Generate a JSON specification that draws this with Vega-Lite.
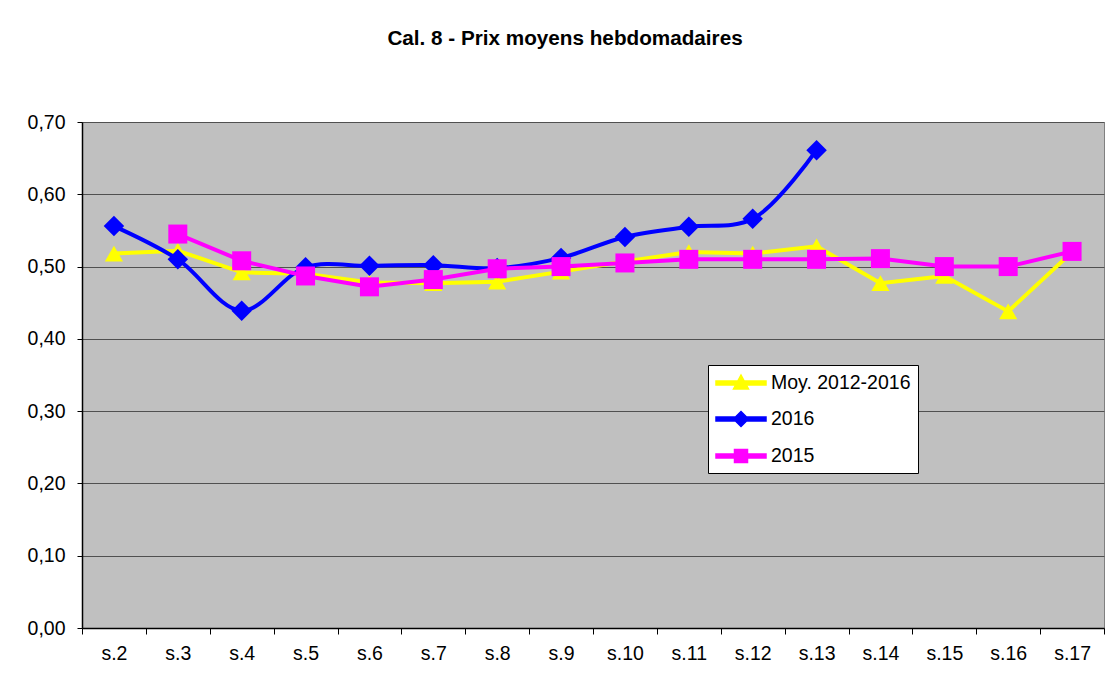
{
  "$schema": "https://vega.github.io/schema/vega-lite/v6.json",
  "autosize": {"type": "none"},
  "width": 1022,
  "height": 506,
  "padding": {"left": 82, "top": 122, "right": 9, "bottom": 67},
  "background": "white",
  "title": {
    "text": "Cal. 8 - Prix moyens hebdomadaires",
    "font": "Liberation Sans",
    "fontSize": 20.7,
    "fontWeight": "bold",
    "color": "black",
    "anchor": "middle",
    "dx": -28,
    "offset": 62
  },
  "config": {
    "font": "Liberation Sans",
    "view": {"fill": "#C0C0C0", "stroke": "#808080", "strokeWidth": 1},
    "legend": {
      "orient": "none",
      "legendX": 626,
      "legendY": 243,
      "fillColor": "white",
      "strokeColor": "black",
      "padding": 7,
      "symbolSize": 400,
      "symbolOffset": 15,
      "labelFontSize": 19.5,
      "labelFont": "Liberation Sans",
      "labelColor": "black",
      "labelOffset": 19,
      "rowPadding": 15,
      "title": null
    }
  },
  "data": {
    "values": [
      {"week": "s.2", "series": "Moy. 2012-2016", "value": 0.518},
      {"week": "s.3", "series": "Moy. 2012-2016", "value": 0.522},
      {"week": "s.4", "series": "Moy. 2012-2016", "value": 0.492},
      {"week": "s.5", "series": "Moy. 2012-2016", "value": 0.490},
      {"week": "s.6", "series": "Moy. 2012-2016", "value": 0.478},
      {"week": "s.7", "series": "Moy. 2012-2016", "value": 0.477},
      {"week": "s.8", "series": "Moy. 2012-2016", "value": 0.479},
      {"week": "s.9", "series": "Moy. 2012-2016", "value": 0.493},
      {"week": "s.10", "series": "Moy. 2012-2016", "value": 0.507},
      {"week": "s.11", "series": "Moy. 2012-2016", "value": 0.520},
      {"week": "s.12", "series": "Moy. 2012-2016", "value": 0.518},
      {"week": "s.13", "series": "Moy. 2012-2016", "value": 0.528},
      {"week": "s.14", "series": "Moy. 2012-2016", "value": 0.477},
      {"week": "s.15", "series": "Moy. 2012-2016", "value": 0.487},
      {"week": "s.16", "series": "Moy. 2012-2016", "value": 0.438},
      {"week": "s.17", "series": "Moy. 2012-2016", "value": 0.520},
      {"week": "s.2", "series": "2016", "value": 0.556},
      {"week": "s.3", "series": "2016", "value": 0.510},
      {"week": "s.4", "series": "2016", "value": 0.439},
      {"week": "s.5", "series": "2016", "value": 0.499},
      {"week": "s.6", "series": "2016", "value": 0.501},
      {"week": "s.7", "series": "2016", "value": 0.502},
      {"week": "s.8", "series": "2016", "value": 0.498},
      {"week": "s.9", "series": "2016", "value": 0.512},
      {"week": "s.10", "series": "2016", "value": 0.541},
      {"week": "s.11", "series": "2016", "value": 0.555},
      {"week": "s.12", "series": "2016", "value": 0.566},
      {"week": "s.13", "series": "2016", "value": 0.661},
      {"week": "s.3", "series": "2015", "value": 0.545},
      {"week": "s.4", "series": "2015", "value": 0.508},
      {"week": "s.5", "series": "2015", "value": 0.487},
      {"week": "s.6", "series": "2015", "value": 0.472},
      {"week": "s.7", "series": "2015", "value": 0.482},
      {"week": "s.8", "series": "2015", "value": 0.497},
      {"week": "s.9", "series": "2015", "value": 0.500},
      {"week": "s.10", "series": "2015", "value": 0.505},
      {"week": "s.11", "series": "2015", "value": 0.510},
      {"week": "s.12", "series": "2015", "value": 0.510},
      {"week": "s.13", "series": "2015", "value": 0.510},
      {"week": "s.14", "series": "2015", "value": 0.511},
      {"week": "s.15", "series": "2015", "value": 0.500},
      {"week": "s.16", "series": "2015", "value": 0.500},
      {"week": "s.17", "series": "2015", "value": 0.521}
    ]
  },
  "encoding": {
    "x": {
      "field": "week",
      "type": "nominal",
      "sort": ["s.2","s.3","s.4","s.5","s.6","s.7","s.8","s.9","s.10","s.11","s.12","s.13","s.14","s.15","s.16","s.17"],
      "scale": {"type": "band", "paddingInner": 0, "paddingOuter": 0},
      "bandPosition": 0.5,
      "axis": {
        "title": null,
        "labelAngle": 0,
        "labelFontSize": 19.5,
        "labelFont": "Liberation Sans",
        "labelColor": "black",
        "labelPadding": 10,
        "tickBand": "extent",
        "tickSize": 6,
        "tickColor": "black",
        "domainColor": "black",
        "domainWidth": 1.5,
        "grid": false
      }
    },
    "y": {
      "field": "value",
      "type": "quantitative",
      "scale": {"domain": [0, 0.7], "nice": false, "zero": true},
      "axis": {
        "title": null,
        "values": [0, 0.1, 0.2, 0.3, 0.4, 0.5, 0.6, 0.7],
        "labelExpr": "replace(format(datum.value, '.2f'), '.', ',')",
        "labelFontSize": 19.5,
        "labelFont": "Liberation Sans",
        "labelColor": "black",
        "labelPadding": 12,
        "tickSize": 5,
        "tickColor": "black",
        "domainColor": "black",
        "domainWidth": 1.5,
        "grid": true,
        "gridColor": "#505050",
        "gridWidth": 1.2
      }
    },
    "color": {
      "field": "series",
      "type": "nominal",
      "scale": {"domain": ["Moy. 2012-2016", "2016", "2015"], "range": ["#FFFF00", "#0000FF", "#FF00FF"]},
      "legend": {
        "encode": {
          "symbols": {
            "update": {
              "shape": {"signal": "datum.value === 'Moy. 2012-2016' ? 'M-2.5,-0.2H2.5V0.2H-2.5Z M0,-0.8L0.75,0.6L-0.75,0.6Z' : datum.value === '2016' ? 'M-2.5,-0.2H2.5V0.2H-2.5Z M0,-0.75L0.75,0L0,0.75L-0.75,0Z' : 'M-2.5,-0.2H2.5V0.2H-2.5Z M-0.65,-0.65H0.65V0.65H-0.65Z'"},
              "fill": {"signal": "datum.value === 'Moy. 2012-2016' ? '#FFFF00' : datum.value === '2016' ? '#0000FF' : '#FF00FF'"},
              "stroke": {"value": "transparent"},
              "opacity": {"value": 1}
            }
          }
        }
      }
    }
  },
  "layer": [
    {
      "transform": [{"filter": "datum.series === 'Moy. 2012-2016'"}],
      "mark": {"type": "line", "strokeWidth": 4}
    },
    {
      "transform": [{"filter": "datum.series === 'Moy. 2012-2016'"}],
      "mark": {"type": "point", "shape": "triangle-up", "filled": true, "opacity": 1, "size": 330}
    },
    {
      "transform": [{"filter": "datum.series === '2016'"}],
      "mark": {"type": "line", "strokeWidth": 4, "interpolate": "catmull-rom"}
    },
    {
      "transform": [{"filter": "datum.series === '2016'"}],
      "mark": {"type": "point", "shape": "diamond", "filled": true, "opacity": 1, "size": 420}
    },
    {
      "transform": [{"filter": "datum.series === '2015'"}],
      "mark": {"type": "line", "strokeWidth": 4}
    },
    {
      "transform": [{"filter": "datum.series === '2015'"}],
      "mark": {"type": "point", "shape": "square", "filled": true, "opacity": 1, "size": 361}
    }
  ]
}
